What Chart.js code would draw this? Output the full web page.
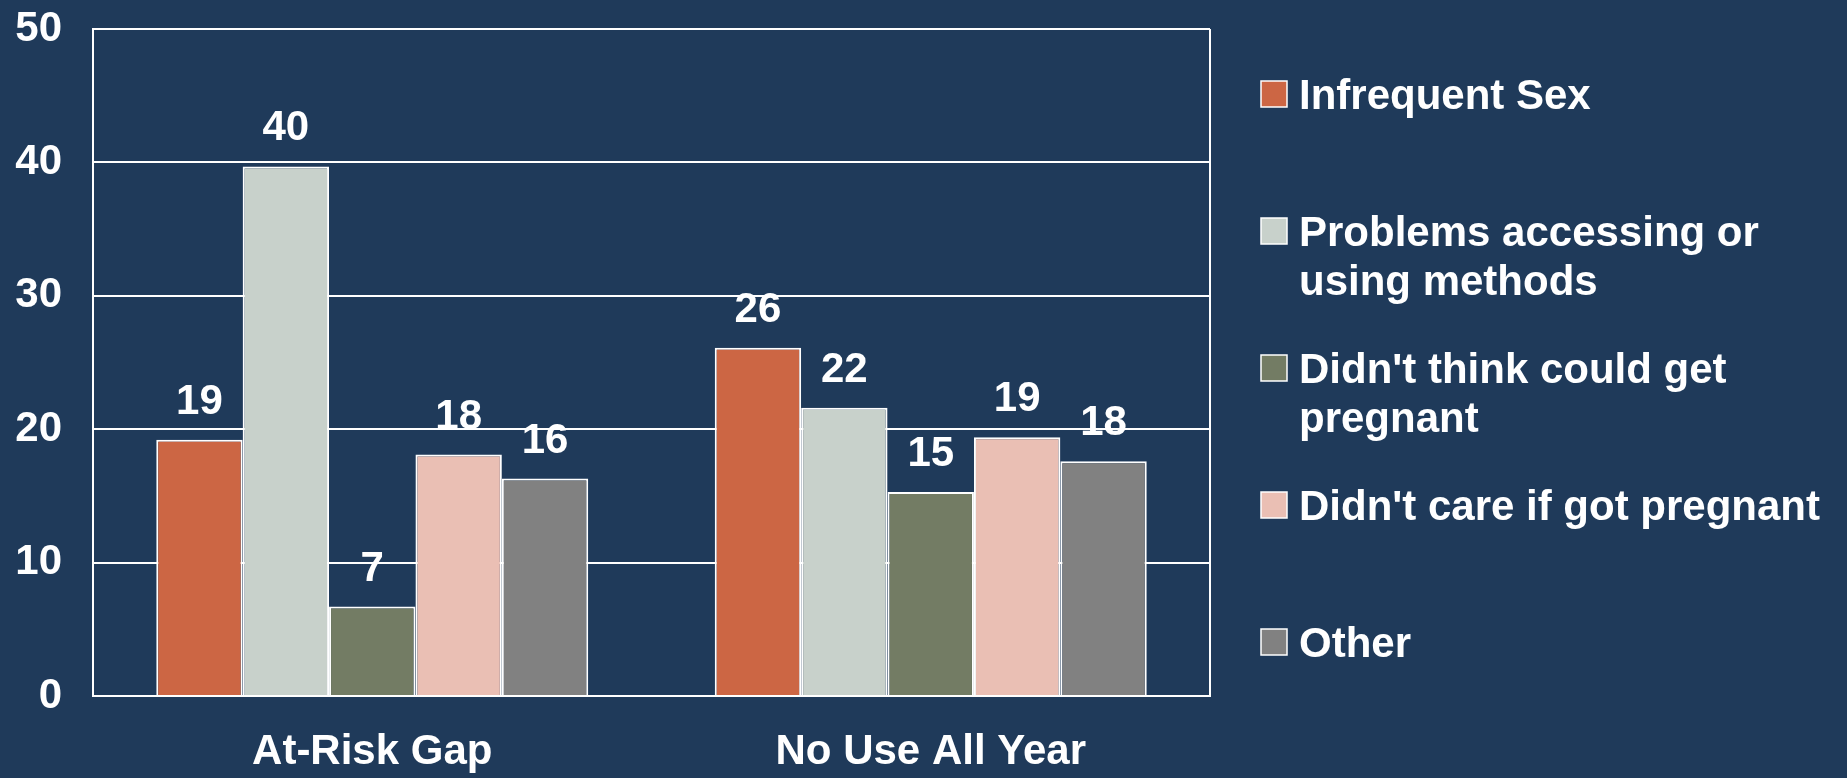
<!DOCTYPE html>
<html><head><meta charset="utf-8">
<script src="https://cdn.jsdelivr.net/npm/chart.js@4/dist/chart.umd.min.js"></script>
<style>
html,body{margin:0;padding:0;background:#1F3A5A;overflow:hidden}
#wrap{position:relative;width:1847px;height:778px}
</style></head><body>
<div id="wrap"><canvas id="c"></canvas></div>
<script>
const categories = ["At-Risk Gap", "No Use All Year"];
const seriesNames = ["Infrequent Sex", "Problems accessing or using methods", "Didn't think could get pregnant", "Didn't care if got pregnant", "Other"];
const infrequentSex = [19.2, 26.1];
const problemsAccessing = [39.7, 21.6];
const didntThink = [6.7, 15.3];
const didntCare = [18.1, 19.4];
const otherReason = [16.3, 17.6];
const yTicks = [0, 10, 20, 30, 40, 50];
const seriesColors = ["#CC6644", "#C8D1CB", "#737C64", "#EABFB4", "#818181"];

const seriesValues = [infrequentSex, problemsAccessing, didntThink, didntCare, otherReason];
const FAMILY = '"Liberation Sans", Arial, sans-serif';
const FONT = 'bold 42px ' + FAMILY;

function wrapText(ctx, text, maxW) {
  const words = text.split(' ');
  const lines = [];
  let cur = '';
  words.forEach(w => {
    const t = cur ? cur + ' ' + w : w;
    if (ctx.measureText(t).width > maxW && cur) { lines.push(cur); cur = w; }
    else cur = t;
  });
  if (cur) lines.push(cur);
  return lines;
}

const extras = {
  id: 'extras',
  afterDraw(chart) {
    const ctx = chart.ctx;
    const a = chart.chartArea;
    ctx.save();
    ctx.strokeStyle = '#ffffff';
    ctx.lineWidth = 2;
    ctx.beginPath();
    ctx.moveTo(a.right, a.top);
    ctx.lineTo(a.right, a.bottom);
    ctx.stroke();

    ctx.font = FONT;
    ctx.fillStyle = '#ffffff';
    ctx.textAlign = 'center';
    ctx.textBaseline = 'alphabetic';
    chart.data.datasets.forEach((ds, i) => {
      chart.getDatasetMeta(i).data.forEach((bar, j) => {
        ctx.fillText(String(Math.round(ds.data[j])), bar.x, bar.y - 26);
      });
    });

    // legend
    const boxX = a.right + 51, textX = a.right + 89, box = 26;
    const y0 = 94, step = 137, lineH = 49;
    ctx.textAlign = 'left';
    chart.data.datasets.forEach((ds, i) => {
      const cy = y0 + i * step;
      ctx.fillStyle = ds.backgroundColor;
      ctx.fillRect(boxX, cy - box / 2, box, box);
      ctx.strokeStyle = '#ffffff';
      ctx.lineWidth = 1.5;
      ctx.strokeRect(boxX, cy - box / 2, box, box);
      ctx.fillStyle = '#ffffff';
      const lines = wrapText(ctx, ds.label, 545);
      lines.forEach((ln, k) => ctx.fillText(ln, textX, cy + 15 + k * lineH));
    });
    ctx.restore();
  }
};

new Chart(document.getElementById('c'), {
  type: 'bar',
  data: {
    labels: categories,
    datasets: seriesNames.map((name, i) => ({
      label: name,
      data: seriesValues[i],
      backgroundColor: seriesColors[i],
      borderColor: '#ffffff',
      borderWidth: 2,
      categoryPercentage: 0.7735,
      barPercentage: 1.0
    }))
  },
  options: {
    responsive: true,
    maintainAspectRatio: false,
    animation: false,
    layout: { padding: { top: 29, right: 637, left: 0, bottom: 0 } },
    plugins: { legend: { display: false }, tooltip: { enabled: false } },
    scales: {
      x: {
        grid: { display: false, drawTicks: false },
        border: { display: true, color: '#ffffff', width: 2 },
        ticks: { color: '#ffffff', font: { family: FAMILY, size: 42, weight: 'bold' }, padding: 31 },
        afterFit(s) { s.height = 82; s.paddingLeft = 0; s.paddingRight = 0; }
      },
      y: {
        min: 0, max: 50,
        afterBuildTicks(s) { s.ticks = yTicks.map(v => ({ value: v })); },
        grid: { color: '#ffffff', lineWidth: 2, drawTicks: false },
        border: { display: true, color: '#ffffff', width: 2 },
        ticks: { color: '#ffffff', font: { family: FAMILY, size: 42, weight: 'bold' }, padding: 31 },
        afterFit(s) { s.width = 93; s.paddingTop = 0; s.paddingBottom = 0; }
      }
    }
  },
  plugins: [extras]
});
</script>
</body></html>
